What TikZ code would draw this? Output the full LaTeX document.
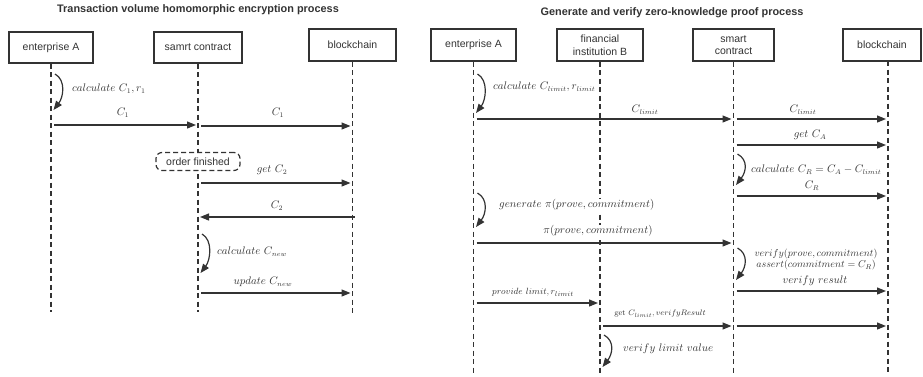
\documentclass[tikz,border=0pt]{standalone}
\usepackage{fontspec}
\setsansfont{Liberation Sans}
\usetikzlibrary{arrows.meta}
\definecolor{ink}{HTML}{333333}
\newcommand\selfloop[3]{\draw[selfa] (#1 |- 0,#2) ++(4,0) .. controls +(11,6) and +(10,-13) .. ++(-1.5,#3-#2);}
\begin{document}
\begin{tikzpicture}[x=1pt,y=-1pt,
  actor/.style={draw=ink, line width=1.2pt, font=\sffamily\fontsize{10.5}{12.5}\selectfont, text=ink, align=center, inner sep=0pt},
  life/.style={draw=ink, line width=1.2pt, dash pattern=on 5pt off 3.5pt},
  selfa/.style={draw=ink, line width=1.2pt, -{Triangle[length=9pt,width=7pt]}},
  msg/.style={selfa, shorten <=3pt, shorten >=2pt},
  lbl/.style={font=\fontsize{10.5}{11.5}\selectfont, text=ink, inner sep=1pt},
  ttl/.style={font=\sffamily\bfseries\fontsize{10.9}{12}\selectfont, text=ink},
  note/.style={draw=ink, line width=1.2pt, dash pattern=on 5pt off 3pt, rounded corners=6pt, fill=white, font=\sffamily\fontsize{10.5}{12}\selectfont, text=ink, minimum width=84pt, minimum height=18pt, inner sep=0pt}]
\useasboundingbox (0,0) rectangle (923,376);

% ---------- left diagram ----------
\node[ttl] (t1) at (198,9.5) {Transaction volume homomorphic encryption process};
\node[actor, minimum width=84pt, minimum height=31pt] (la) at (51,47.5) {enterprise A};
\node[actor, minimum width=88pt, minimum height=31pt] (ls) at (198,47.5) {samrt contract};
\node[actor, minimum width=87pt, minimum height=32pt] (lb) at (352.5,45) {blockchain};
\coordinate (la-e) at (51,312);
\coordinate (ls-e) at (198,312);
\coordinate (lb-e) at (352.5,313);
\draw[life] (la.south) -- (la-e);
\draw[life] (ls.south) -- (ls-e);
\draw[life] (lb.south) -- (lb-e);

\selfloop{la}{74}{110}
\node[lbl, anchor=west] (l1) at (71,89) {$calculate\ C_1, r_1$};
\draw[msg] (la |- 0,125) -- (ls |- 0,125);
\node[lbl] (l2) at (123,113) {$C_1$};
\draw[msg] (ls |- 0,126) -- (lb |- 0,126);
\node[lbl] (l3) at (278,113) {$C_1$};
\node[note] (of) at (198,161.5) {order finished};
\draw[msg] (ls |- 0,183) -- (lb |- 0,183);
\node[lbl] (l4) at (272,170) {$get\ C_2$};
\draw[msg, shorten <=-2pt] (lb |- 0,217) -- (ls |- 0,217);
\node[lbl] (l5) at (277,206) {$C_2$};
\selfloop{ls}{234}{273}
\node[lbl, anchor=west] (l6) at (216,252) {$calculate\ C_{new}$};
\draw[msg] (ls |- 0,293) -- (lb |- 0,293);
\node[lbl] (l7) at (263,282) {$update\ C_{new}$};

% ---------- right diagram ----------
\node[ttl] (t2) at (672,12.5) {Generate and verify zero-knowledge proof process};
\node[actor, minimum width=85pt, minimum height=32pt] (ra) at (473.5,45) {enterprise A};
\node[actor, minimum width=86pt, minimum height=32pt] (rf) at (600,45) {financial\\institution B};
\node[actor, minimum width=81pt, minimum height=32pt] (rs) at (733.5,45) {smart\\contract};
\node[actor, minimum width=78pt, minimum height=32pt] (rb) at (882,45) {blockchain};
\coordinate (rbl) at (888,61);
\coordinate (ra-e) at (473.5,373);
\coordinate (rf-e) at (600,373);
\coordinate (rs-e) at (733.5,373);
\coordinate (rb-e) at (888,373);
\draw[life] (ra.south) -- (ra-e);
\draw[life] (rf.south) -- (rf-e);
\draw[life] (rs.south) -- (rs-e);
\draw[life] (rbl) -- (rb-e);

\selfloop{ra}{74}{113}
\node[lbl, anchor=west] (r1) at (492,87) {$calculate\ C_{limit}, r_{limit}$};
\draw[msg] (ra |- 0,119) -- (rs |- 0,119);
\node[lbl] (r2) at (645,110) {$C_{limit}$};
\draw[msg] (rs |- 0,119) -- (rbl |- 0,119);
\node[lbl] (r3) at (803,110) {$C_{limit}$};
\draw[msg] (rs |- 0,145) -- (rbl |- 0,145);
\node[lbl] (r4) at (810,135) {$get\ C_A$};
\selfloop{rs}{154}{185}
\node[lbl, anchor=west] (r5) at (750,170) {$calculate\ C_R = C_A - C_{limit}$};
\draw[msg] (rs |- 0,196) -- (rbl |- 0,196);
\node[lbl] (r6) at (812,186) {$C_R$};
\selfloop{ra}{193}{227}
\node[lbl, anchor=west, fill=white] (r7) at (498,205) {$generate\ \pi(prove, commitment)$};
\draw[msg] (ra |- 0,243) -- (rs |- 0,243);
\node[lbl, fill=white] (r8) at (598,231) {$\pi(prove, commitment)$};
\selfloop{rs}{248}{280}
\node[lbl, align=center, font=\fontsize{10}{11}\selectfont] (r9) at (816,259.5) {$verify(prove, commitment)$\\$assert(commitment = C_R)$};
\draw[msg] (rs |- 0,291) -- (rbl |- 0,291);
\node[lbl] (r10) at (815,281) {$verify\ result$};
\draw[msg] (ra |- 0,303) -- (rf |- 0,303);
\node[lbl, font=\fontsize{9.5}{11}\selectfont] (r11) at (533,292) {$provide\ limit, r_{limit}$};
\draw[msg] (rf |- 0,326) -- (rs |- 0,326);
\node[lbl, font=\fontsize{8}{9}\selectfont] (r12) at (660,314) {$\mathrm{get}\ C_{limit}, verifyResult$};
\draw[msg] (rs |- 0,326) -- (rbl |- 0,326);
\selfloop{rf}{335}{367}
\node[lbl, anchor=west] (r13) at (622,349) {$verify\ limit\ value$};
\end{tikzpicture}
\end{document}
